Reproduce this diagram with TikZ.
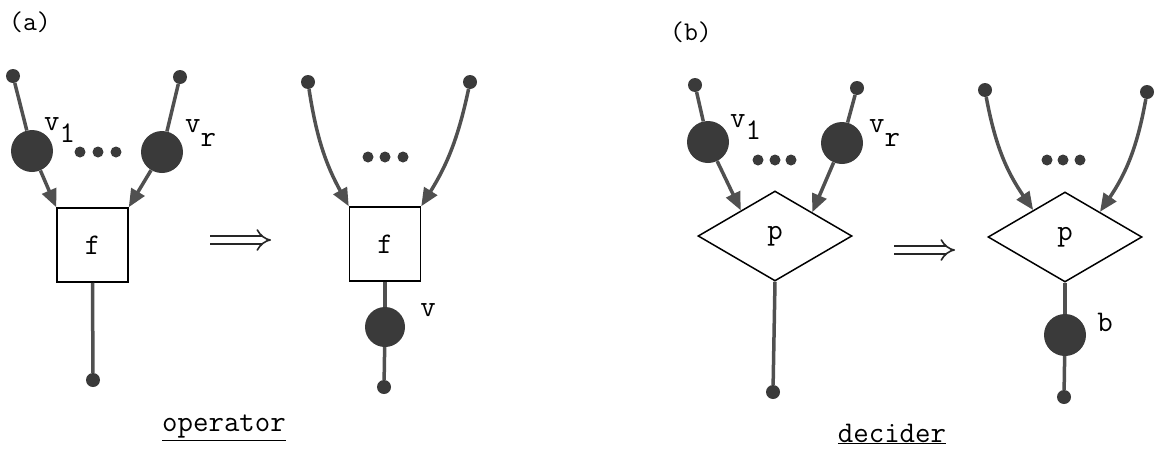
\documentclass[tikz,border=0pt]{standalone}
\usepackage{fontspec}
\usetikzlibrary{arrows.meta,shapes.geometric,calc}
\definecolor{ink}{HTML}{3A3A3A}
\definecolor{wirec}{HTML}{505050}
\begin{document}
\begin{tikzpicture}[x=1pt,y=-1pt,
  wire/.style={draw=wirec,line width=3.5pt},
  arr/.style={wire,-{Triangle[length=18pt,width=15pt]}},
  implies/.style={draw=black!85,line width=1.6pt,double distance=6pt,-{Implies[length=9pt,width=20pt]}},
  bigdot/.style={circle,fill=ink,minimum size=42pt,inner sep=0pt},
  smalldot/.style={circle,fill=ink,minimum size=14pt,inner sep=0pt},
  opbox/.style={draw=black,line width=1.5pt,fill=white,minimum width=71pt,minimum height=74pt,inner sep=0pt,font=\ttfamily\fontsize{30}{34}\selectfont},
  decbox/.style={diamond,draw=black,line width=1.5pt,fill=white,aspect=1.71,minimum width=154pt,minimum height=90pt,inner sep=0pt,font=\ttfamily\fontsize{30}{34}\selectfont},
  lbl/.style={inner sep=0pt,font=\ttfamily\fontsize{30}{34}\selectfont},
  tag/.style={inner sep=0pt,font=\ttfamily\fontsize{27}{30}\selectfont},
  ell/.style={fill=ink}]
\useasboundingbox (0,0) rectangle (1160,453);

% ---------- (a) ----------
\node[tag] (alab) at (30,22) {(a)};

% left: operator before
\node[opbox] (fa) at (92.5,245) {f};
\node[smalldot] (a1s) at (13,76) {};
\node[bigdot] (a1) at (32,151) {};
\node[smalldot] (ars) at (180,77) {};
\node[bigdot] (ar) at (162,152) {};
\node[smalldot] (aout) at (93,380) {};
\draw[wire] (a1s) -- (a1);
\draw[arr] (a1) -- (fa.north west);
\draw[wire] (ars) -- (ar);
\draw[arr] (ar) -- (fa.north east);
\draw[wire] (fa.south) -- (aout);
\node[lbl,anchor=base west] (a1lab) at (44,130) {v\raisebox{-12pt}{1}};
\node[lbl,anchor=base west] (arlab) at (185,132) {v\raisebox{-14pt}{r}};
\fill[ell] (80,152) circle (5.5pt) (98,152) circle (5.5pt) (116,152) circle (5.5pt);

\coordinate (ia1) at (210,240);
\coordinate (ia2) at (271,240);
\draw[implies] (ia1) -- (ia2);

% right: operator after
\node[opbox] (fb) at (385,244) {f};
\node[smalldot] (b1s) at (308,82) {};
\node[smalldot] (brs) at (470,82) {};
\node[bigdot,minimum size=40pt] (bv) at (385,327) {};
\node[smalldot] (bout) at (384,387) {};
\draw[arr] (b1s) to[bend right=10] (fb.north west);
\draw[arr] (brs) to[bend left=10] (fb.north east);
\draw[wire] (fb.south) -- (bv);
\draw[wire] (bv) -- (bout);
\node[lbl] (bvlab) at (428,310) {v};
\fill[ell] (368,157) circle (5.5pt) (385,157) circle (5.5pt) (403,157) circle (5.5pt);

\node[lbl] (oplab) at (224,428) {\underline{operator}};

% ---------- (b) ----------
\node[tag] (blab) at (691,32) {(b)};

% left: decider before
\node[decbox] (pa) at (775,236) {p};
\node[smalldot] (c1s) at (695,85) {};
\node[bigdot] (c1) at (708,142) {};
\node[smalldot] (crs) at (857,88) {};
\node[bigdot] (cr) at (842,143) {};
\node[smalldot] (cout) at (773,392) {};
\coordinate (pa1) at ($(pa.north)!0.44!(pa.west)$);
\coordinate (par) at ($(pa.north)!0.48!(pa.east)$);
\draw[wire] (c1s) -- (c1);
\draw[arr] (c1) -- (pa1);
\draw[wire] (crs) -- (cr);
\draw[arr] (cr) -- (par);
\draw[wire] (pa.south) -- (cout);
\node[lbl,anchor=base west] (c1lab) at (730,127) {v\raisebox{-12pt}{1}};
\node[lbl,anchor=base west] (crlab) at (869,132) {v\raisebox{-14pt}{r}};
\fill[ell] (758,160) circle (5.5pt) (775,160) circle (5.5pt) (791,160) circle (5.5pt);

\coordinate (ib1) at (894,250);
\coordinate (ib2) at (955,250);
\draw[implies] (ib1) -- (ib2);

% right: decider after
\node[decbox] (pb) at (1065,237) {p};
\node[smalldot] (d1s) at (985,90) {};
\node[smalldot] (drs) at (1147,92) {};
\node[bigdot] (db) at (1065,335) {};
\node[smalldot] (dout) at (1064,397) {};
\coordinate (pb1) at ($(pb.north)!0.41!(pb.west)$);
\coordinate (pbr) at ($(pb.north)!0.45!(pb.east)$);
\draw[arr] (d1s) to[bend right=12] (pb1);
\draw[arr] (drs) to[bend left=12] (pbr);
\draw[wire] (pb.south) -- (db);
\draw[wire] (db) -- (dout);
\node[lbl] (dblab) at (1105,322) {b};
\fill[ell] (1047,160) circle (5.5pt) (1063,160) circle (5.5pt) (1080,160) circle (5.5pt);

\node[lbl] (declab) at (892,434) {\underline{decider}};
\end{tikzpicture}
\end{document}
